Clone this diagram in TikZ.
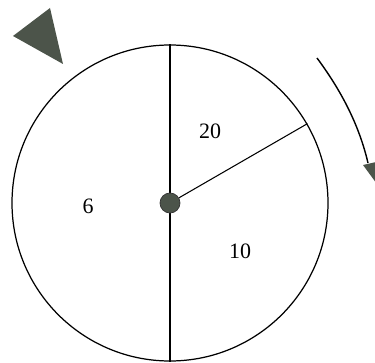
\documentclass[tikz,border=0pt]{standalone}
\usepackage{fontspec}
\setmainfont{Liberation Serif}
\definecolor{pointergray}{RGB}{76,84,74}
\begin{document}
\begin{tikzpicture}[
  sector/.style={font=\fontsize{12.5}{15}\selectfont},
  spoke/.style={line width=0.6pt}]
\useasboundingbox (0,0) rectangle (7.5,7.24);
\node[draw, circle, line width=0.7pt, minimum size=6.32cm, inner sep=0pt] (wheel) at (3.4,3.18) {};
\draw[spoke] (wheel.north) -- (wheel.south);
\node[circle, fill=pointergray, draw=black!80, line width=0.4pt, minimum size=0.4cm, inner sep=0pt] (hub) at (wheel.center) {};
\draw[spoke] (hub) -- (wheel.30);
\node[sector] (twenty) at (4.2,4.62) {20};
\node[sector] (six) at (1.76,3.12) {6};
\node[sector] (ten) at (4.8,2.22) {10};
% pointers
\fill[pointergray] (0.26,6.52) -- (1.0,7.08) -- (1.26,5.96) -- cycle;
\coordinate (turnstart) at (6.34,6.08);
\coordinate (turnend) at (7.36,3.98);
\draw[line width=0.8pt] (turnstart) .. controls (6.74,5.54) and (7.16,4.84) .. (turnend);
\fill[pointergray] (7.26,3.94) -- (8.14,4.14) -- (7.92,3.04) -- cycle;
\end{tikzpicture}
\end{document}
